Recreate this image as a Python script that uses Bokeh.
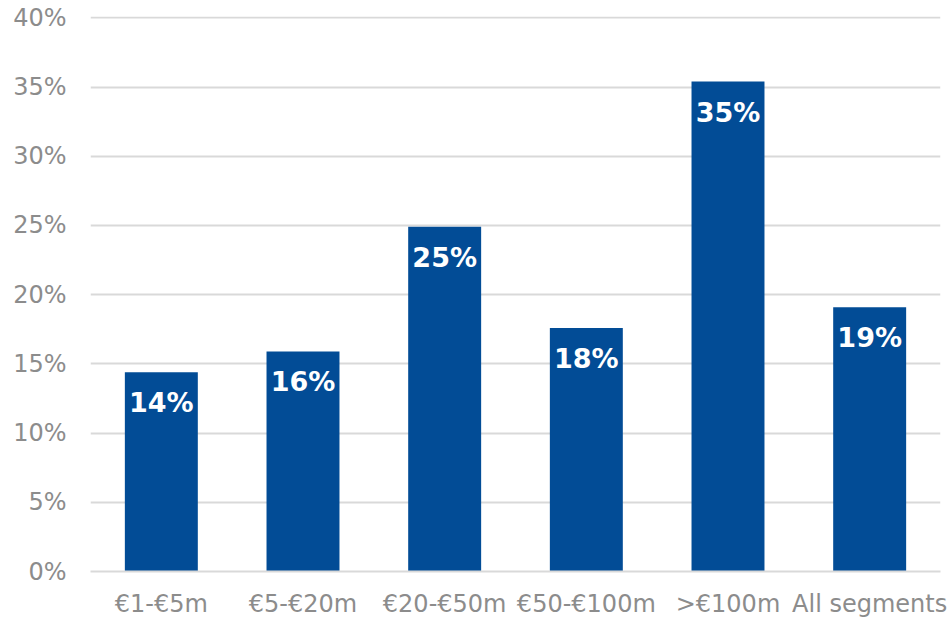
from bokeh.plotting import figure
from bokeh.models import ColumnDataSource, FixedTicker, Range1d, FactorRange, LabelSet
from bokeh.core.properties import value
from bokeh.embed import file_html
from bokeh.resources import INLINE

categories = ["€1-€5m", "€5-€20m", "€20-€50m", "€50-€100m", ">€100m", "All segments"]
values = [14.4, 15.9, 24.9, 17.6, 35.4, 19.1]
bar_labels = ["14%", "16%", "25%", "18%", "35%", "19%"]
y_ticks = [0, 5, 10, 15, 20, 25, 30, 35, 40]

src = ColumnDataSource(dict(cat=categories, val=values, lab=bar_labels))

p = figure(width=948, height=620, x_range=FactorRange(*categories, range_padding=0),
           y_range=Range1d(0, 40.1), output_backend="svg", toolbar_location=None,
           min_border_left=90, min_border_right=8, min_border_top=16, min_border_bottom=47)
p.outline_line_color = None
p.background_fill_color = "white"
p.border_fill_color = "white"

p.vbar(x="cat", top="val", width=0.515, source=src, color="#024C96", line_color=None)

labels = LabelSet(x="cat", y="val", text="lab", source=src, text_align="center",
                  text_baseline="top", y_offset=-15, text_color="white",
                  text_font=value("DejaVu Sans"), text_font_style="bold", text_font_size="27px")
p.add_layout(labels)

p.yaxis.ticker = FixedTicker(ticks=y_ticks)
p.yaxis.major_label_overrides = {t: f"{t}%" for t in y_ticks}
p.yaxis.axis_line_color = None
p.yaxis.major_tick_line_color = None
p.yaxis.minor_tick_line_color = None
p.yaxis.major_tick_out = 0
p.yaxis.major_label_standoff = 24
p.yaxis.major_label_text_font = "DejaVu Sans"
p.yaxis.major_label_text_font_size = "24px"
p.yaxis.major_label_text_color = "#8c8c8c"

p.xaxis.axis_line_color = "#d9d9d9"
p.xaxis.axis_line_width = 2
p.xaxis.major_tick_line_color = None
p.xaxis.minor_tick_line_color = None
p.xaxis.major_tick_out = 0
p.xaxis.major_label_standoff = 18
p.xaxis.major_label_text_font = "DejaVu Sans"
p.xaxis.major_label_text_font_size = "24px"
p.xaxis.major_label_text_color = "#8c8c8c"

p.xgrid.grid_line_color = None
p.ygrid.grid_line_color = "#d9d9d9"
p.ygrid.grid_line_width = 2
p.ygrid.ticker = FixedTicker(ticks=y_ticks)

open("out.html", "w").write(file_html(p, INLINE))
